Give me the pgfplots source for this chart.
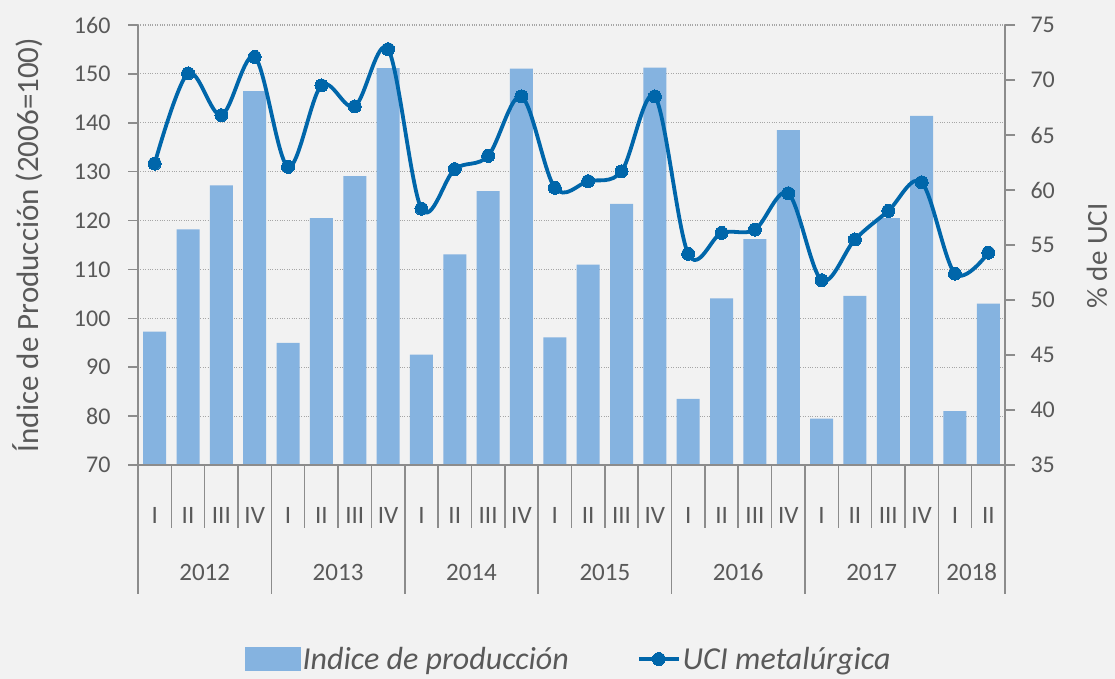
\documentclass[border=0pt]{standalone}
\usepackage{pgfplots}
\pgfplotsset{compat=1.18}
\usepackage{fontspec}
\setmainfont{Carlito}

\definecolor{bgc}{HTML}{F2F2F2}
\definecolor{barc}{HTML}{85B3E0}
\definecolor{linec}{HTML}{0066AA}
\definecolor{axc}{HTML}{8C8C8C}
\definecolor{gridc}{HTML}{A6A6A6}
\definecolor{txtc}{HTML}{595959}

\pgfplotsset{
  common/.style={
    at={(138pt,214pt)}, anchor=south west,
    scale only axis, width=867pt, height=440pt,
    xmin=-0.5, xmax=25.5,
    /pgf/number format/assume math mode=true,
    tick label style={font=\fontsize{24}{28}\selectfont, text=txtc},
    axis line style={draw=axc, line width=1.5pt},
    tick style={draw=axc, line width=1.5pt},
    tick align=outside, major tick length=10pt,
  },
  uci legend/.style={legend image code/.code={\draw[mark repeat=2,mark phase=2,##1]
    plot coordinates {(0pt,0pt) (20pt,0pt) (40pt,0pt)};}},
}

\begin{document}
\begin{tikzpicture}
\useasboundingbox (0,0) rectangle (1115pt,679pt);
\fill[bgc] (0,0) rectangle (1115pt,679pt);

% barras: indice de produccion
\begin{axis}[common,
  clip mode=individual,
  axis x line*=bottom, axis y line*=left,
  ymin=70, ymax=160, ytick={70,80,...,160},
  ymajorgrids, grid style={draw=gridc, dotted, line width=1.2pt},
  xtick={0,...,25},
  xticklabels={I,II,III,IV,I,II,III,IV,I,II,III,IV,I,II,III,IV,I,II,III,IV,I,II,III,IV,I,II},
  x tick style={draw=none},
  xticklabel style={anchor=base, yshift=-49pt, font=\fontsize{25}{30}\selectfont},
  yticklabel style={xshift=-14pt},
  ylabel={Índice de Producción (2006=100)},
  every axis y label/.style={at={(axis description cs:-0.127,0.5)}, rotate=90, anchor=center,
    font=\fontsize{31}{36}\selectfont, text=txtc},
]
\addplot[ybar, bar width=23pt, fill=barc, draw=none] coordinates {
  (0,97.3) (1,118.2) (2,127.2) (3,146.5)
  (4,95.0) (5,120.5) (6,129.1) (7,151.2)
  (8,92.6) (9,113.1) (10,126.0) (11,151.1)
  (12,96.1) (13,111.0) (14,123.4) (15,151.3)
  (16,83.5) (17,104.1) (18,116.2) (19,138.5)
  (20,79.5) (21,104.6) (22,120.5) (23,141.4)
  (24,81.0) (25,103.0)
};
\draw[axc, line width=1.5pt] (axis cs:-0.5,70) -- (axis cs:25.5,70);
\pgfplotsinvokeforeach{-0.5,0.5,...,25.5}{
  \draw[axc, line width=1.5pt] (axis cs:#1,70) -- ([yshift=-63pt]axis cs:#1,70);
}
\pgfplotsinvokeforeach{-0.5,3.5,7.5,11.5,15.5,19.5,23.5,25.5}{
  \draw[axc, line width=1.5pt] (axis cs:#1,70) -- ([yshift=-129pt]axis cs:#1,70);
}
\begin{scope}[every node/.style={anchor=base, yshift=-115pt, text=txtc,
    font=\fontsize{25}{30}\selectfont}]
\node at (axis cs:1.5,70) {2012};
\node at (axis cs:5.5,70) {2013};
\node at (axis cs:9.5,70) {2014};
\node at (axis cs:13.5,70) {2015};
\node at (axis cs:17.5,70) {2016};
\node at (axis cs:21.5,70) {2017};
\node at (axis cs:24.5,70) {2018};
\end{scope}
\end{axis}

% linea: UCI metalurgica
\begin{axis}[common,
  axis y line*=right, axis x line=none,
  ymin=35, ymax=75, ytick={35,40,...,75},
  yticklabel style={xshift=12pt},
  ylabel={\% de UCI},
  every axis y label/.style={at={(axis description cs:1.106,0.475)}, rotate=90, anchor=center,
    font=\fontsize{29}{34}\selectfont, text=txtc},
  legend style={at={(0.497,-0.441)}, anchor=center, draw=none, fill=none,
    legend columns=2, font=\itshape\fontsize{32}{38}\selectfont, text=txtc,
    /tikz/every even column/.append style={column sep=66pt}},
]
\addlegendimage{legend image code/.code={\fill[barc] (0pt,-11.5pt) rectangle (55pt,11.5pt);}}
\addlegendentry{Indice de producción}
\addplot[linec, line width=3.8pt, smooth, tension=0.55,
  mark=*, mark size=6.5pt, mark options={fill=linec, draw=linec, line width=0pt},
  uci legend] coordinates {
  (0,62.4) (1,70.6) (2,66.8) (3,72.1)
  (4,62.1) (5,69.5) (6,67.6) (7,72.8)
  (8,58.3) (9,61.9) (10,63.1) (11,68.5)
  (12,60.2) (13,60.8) (14,61.7) (15,68.5)
  (16,54.2) (17,56.1) (18,56.4) (19,59.7)
  (20,51.8) (21,55.5) (22,58.1) (23,60.7)
  (24,52.4) (25,54.3)
};
\addlegendentry{UCI metalúrgica}
\end{axis}
\end{tikzpicture}
\end{document}
